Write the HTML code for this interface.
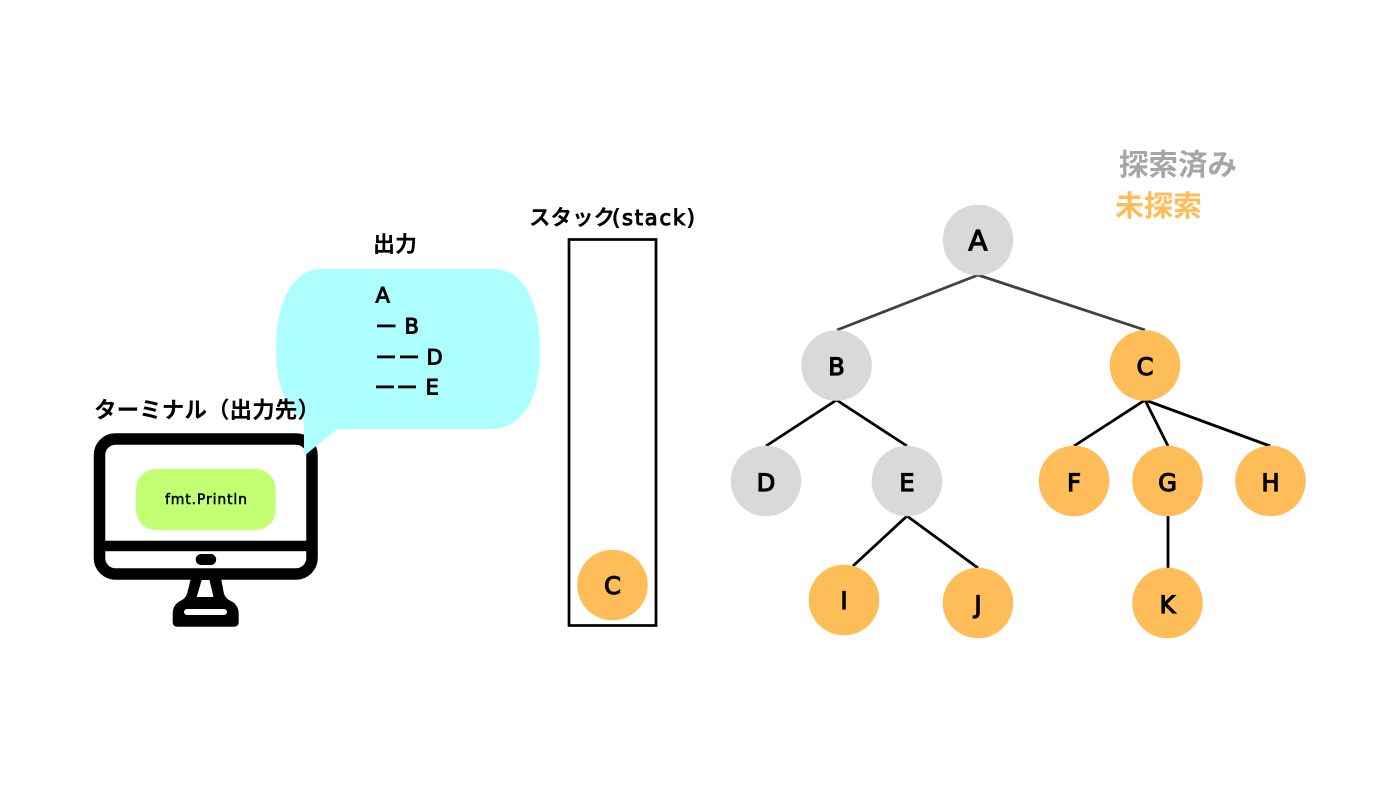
<!DOCTYPE html>
<html lang="ja">
<head>
<meta charset="utf-8">
<title>Stack diagram</title>
<style>
html,body{margin:0;padding:0;background:#fff}
svg{display:block}
text{fill:#000}
.jp{font-family:"Noto Sans CJK JP",sans-serif;font-weight:700}
.l{font-family:"DejaVu Sans",sans-serif;font-weight:400;stroke:#000;stroke-width:1px}
.n{font-size:24px;text-anchor:middle;font-family:"DejaVu Sans",sans-serif;font-weight:400;stroke:#000;stroke-width:1.200px}
.o{font-size:21px}
</style>
</head>
<body>
<svg width="1400" height="787" viewBox="0 0 1400 787" xmlns="http://www.w3.org/2000/svg">
<rect width="1400" height="787" fill="#fff"/>

<!-- monitor -->
<rect x="99.500" y="439" width="212.500" height="135" rx="16" fill="#fff" stroke="#000" stroke-width="11.500"/>
<rect x="100" y="540.700" width="212" height="10.500" fill="#000"/>
<rect x="195.700" y="554" width="20.500" height="11" rx="5.500" fill="#000"/>
<path d="M191 578H221L224 594Q226 599 231 601Q238.700 605 238.700 614V622Q238.700 626.700 234 626.700H177.500Q172.700 626.700 172.700 622V614Q172.700 605 180 601Q185 599 187 594Z" fill="#000"/>
<path d="M201.700 580H209.500L213.500 597H196.700Z" fill="#fff"/>
<rect x="184" y="609" width="43" height="6" rx="3" fill="#fff"/>
<rect x="136" y="469" width="139.700" height="61" rx="20" fill="#c3ff73"/>
<text x="165" y="504" font-size="14" class="l" style="stroke-width:.5px" textLength="82">fmt.Println</text>

<!-- speech bubble -->
<path d="M322 269H493C525 269 540 305 540 350C540 395 525 429 490 429H337L304 456V420C286 408 276 385 276 350C276 305 291 269 322 269Z" fill="#adfeff"/>
<text x="94" y="418" font-size="22.600" class="jp">ターミナル（出力先）</text>
<text x="373" y="252" font-size="22" class="jp">出力</text>
<text x="375.500" y="302.500" class="l o">A</text>
<rect x="377" y="324.500" width="18.500" height="2.800" fill="#000"/>
<text x="404.500" y="333.500" class="l o">B</text>
<rect x="377" y="355.500" width="18" height="2.800" fill="#000"/>
<rect x="400" y="355.500" width="18" height="2.800" fill="#000"/>
<text x="426.500" y="364.500" class="l o">D</text>
<rect x="376" y="385.500" width="18" height="2.800" fill="#000"/>
<rect x="398" y="385.500" width="18" height="2.800" fill="#000"/>
<text x="425.500" y="394.500" class="l o">E</text>

<!-- stack -->
<text x="529" y="225" font-size="21.500" class="jp">スタック</text>
<text x="612" y="225" font-size="21" class="l" textLength="83">(stack)</text>
<rect x="569" y="239.500" width="87" height="386" fill="none" stroke="#000" stroke-width="2.700"/>
<circle cx="612.500" cy="585" r="35.300" fill="#ffbd59"/>
<text x="612.500" y="594" class="n">C</text>

<!-- legend -->
<text x="1119" y="175" font-size="29.500" class="jp" style="fill:#a6a6a6">探索済み</text>
<text x="1115" y="216" font-size="29" class="jp" style="fill:#ffbd59">未探索</text>

<!-- edges -->
<g stroke-width="2.800" fill="none">
<path d="M978 275L837 330M978 275L1145 330" stroke="#414141"/>
<g stroke="#000">
<path d="M836.500 400L766 446M836.500 400L907 446"/>
<path d="M1145 400L1074 446M1145 400L1168 446M1145 400L1270 446"/>
<path d="M907 516L853 566M907 516L978 568"/>
<path d="M1168 516V568"/>
</g>
</g>

<!-- nodes -->
<g fill="#d9d9d9">
<circle cx="978" cy="240" r="35.300"/>
<circle cx="836.500" cy="365.500" r="35.300"/>
<circle cx="766" cy="481" r="35.300"/>
<circle cx="907" cy="481" r="35.300"/>
</g>
<g fill="#ffbd59">
<circle cx="1145" cy="365.500" r="35.300"/>
<circle cx="1074" cy="481" r="35.300"/>
<circle cx="1167.500" cy="481" r="35.300"/>
<circle cx="1270.500" cy="481" r="35.300"/>
<circle cx="844" cy="600" r="35.300"/>
<circle cx="978" cy="603" r="35.300"/>
<circle cx="1167.500" cy="603" r="35.300"/>
</g>
<text x="978" y="250" class="n" style="font-size:28px">A</text>
<text x="836.500" y="375" class="n">B</text>
<text x="1145" y="375" class="n">C</text>
<text x="766" y="491" class="n">D</text>
<text x="907" y="491" class="n">E</text>
<text x="1074" y="491" class="n">F</text>
<text x="1167.500" y="491" class="n">G</text>
<text x="1270.500" y="491" class="n">H</text>
<text x="844" y="609" class="n">I</text>
<text x="978" y="613" class="n">J</text>
<text x="1167.500" y="613" class="n">K</text>
</svg>
</body>
</html>
